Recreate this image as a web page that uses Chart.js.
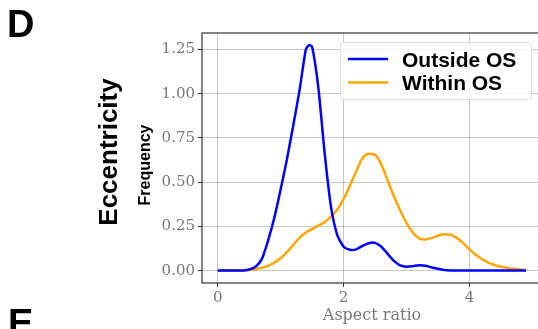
<!DOCTYPE html>
<html>
<head>
<meta charset="utf-8">
<script src="https://cdn.jsdelivr.net/npm/chart.js@4/dist/chart.umd.min.js"></script>
<style>
  html, body { margin: 0; padding: 0; background: #fff; overflow: hidden; }
  #wrap { width: 545px; height: 329px; }
</style>
</head>
<body>
<div id="wrap"><canvas id="myChart" width="545" height="329"></canvas></div>
<script>
// aspect ratio grid (x) and the two density curves
const aspectRatio = [0, 0.1, 0.2, 0.3, 0.4, 0.5, 0.6, 0.7, 0.8, 0.9, 1.0, 1.1, 1.2, 1.3, 1.4, 1.45, 1.5, 1.6, 1.7, 1.8, 1.9,
  2.0, 2.1, 2.2, 2.3, 2.4, 2.5, 2.6, 2.7, 2.8, 2.9, 3.0, 3.1, 3.2, 3.3, 3.4, 3.5, 3.6, 3.7, 3.8, 3.9,
  4.0, 4.1, 4.2, 4.3, 4.4, 4.5, 4.6, 4.7, 4.8, 4.9];
const outsideOS = [0, 0, 0, 0, 0.001, 0.006, 0.022, 0.065, 0.17, 0.3, 0.46, 0.63, 0.82, 1.02, 1.25, 1.275, 1.265, 1.03, 0.66, 0.36, 0.2,
  0.135, 0.118, 0.12, 0.14, 0.155, 0.157, 0.135, 0.095, 0.055, 0.03, 0.022, 0.025, 0.03, 0.027, 0.018, 0.01, 0.004, 0.001, 0, 0,
  0, 0, 0, 0, 0, 0, 0, 0, 0, 0];
const withinOS = [0, 0, 0, 0, 0.001, 0.003, 0.008, 0.016, 0.027, 0.045, 0.07, 0.105, 0.145, 0.185, 0.215, 0.226, 0.235, 0.255, 0.275, 0.305, 0.345,
  0.405, 0.48, 0.56, 0.635, 0.66, 0.655, 0.6, 0.51, 0.42, 0.34, 0.27, 0.215, 0.182, 0.176, 0.185, 0.197, 0.206, 0.203, 0.185, 0.155,
  0.12, 0.09, 0.065, 0.045, 0.032, 0.022, 0.015, 0.01, 0.006, 0.003];
const seriesNames = ['Outside OS', 'Within OS'];
const xTicks = [0, 2, 4];
const yTicks = [0, 0.25, 0.5, 0.75, 1.0, 1.25];

const BLUE = '#0000ff';
const ORANGE = '#ffa500';
const TICK_FONT = { family: 'DejaVu Serif', size: 15 };

// extra texts, frame and legend drawn by hand
const decorPlugin = {
  id: 'decor',
  afterDraw(chart) {
    const ctx = chart.ctx;
    const a = chart.chartArea;
    ctx.save();
    // frame
    ctx.strokeStyle = '#333';
    ctx.lineWidth = 1.2;
    ctx.strokeRect(a.left, a.top, a.right - a.left, a.bottom - a.top);

    // panel letters
    ctx.fillStyle = '#000';
    ctx.font = 'bold 38px "Liberation Sans", Arial, sans-serif';
    ctx.textAlign = 'left';
    ctx.textBaseline = 'alphabetic';
    ctx.fillText('D', 7, 37);
    ctx.fillText('E', 8, 336);

    // rotated labels
    ctx.save();
    ctx.translate(117, 152);
    ctx.rotate(-Math.PI / 2);
    ctx.textAlign = 'center';
    ctx.font = 'bold 26px "Liberation Sans", Arial, sans-serif';
    ctx.fillText('Eccentricity', 0, 0);
    ctx.restore();

    ctx.save();
    ctx.translate(150, 165);
    ctx.rotate(-Math.PI / 2);
    ctx.textAlign = 'center';
    ctx.font = 'bold 16px "Liberation Sans", Arial, sans-serif';
    ctx.fillText('Frequency', 0, 0);
    ctx.restore();

    // x axis title
    ctx.fillStyle = '#777';
    ctx.font = '16px "DejaVu Serif", serif';
    ctx.textAlign = 'center';
    ctx.textBaseline = 'middle';
    ctx.fillText('Aspect ratio', 372, 316);

    // legend
    ctx.fillStyle = 'rgba(255,255,255,0.85)';
    ctx.strokeStyle = '#ddd';
    ctx.lineWidth = 1;
    ctx.beginPath();
    ctx.roundRect(340.5, 42.5, 191, 57, 3);
    ctx.fill();
    ctx.stroke();
    const colors = [BLUE, ORANGE];
    const rows = [59, 82.5];
    ctx.font = 'bold 21px "Liberation Sans", Arial, sans-serif';
    ctx.textAlign = 'left';
    ctx.textBaseline = 'alphabetic';
    seriesNames.forEach((name, i) => {
      ctx.strokeStyle = colors[i];
      ctx.lineWidth = 2.5;
      ctx.beginPath();
      ctx.moveTo(348, rows[i]);
      ctx.lineTo(388, rows[i]);
      ctx.stroke();
      ctx.fillStyle = '#000';
      ctx.fillText(name, 402, rows[i] + 7.5);
    });
    ctx.restore();
  }
};

const toPoints = (ys) => aspectRatio.map((x, i) => ({ x: x, y: ys[i] }));

new Chart(document.getElementById('myChart'), {
  type: 'line',
  data: {
    datasets: [
      { label: seriesNames[0], data: toPoints(outsideOS), borderColor: BLUE, borderWidth: 2.5, pointRadius: 0, tension: 0.2 },
      { label: seriesNames[1], data: toPoints(withinOS), borderColor: ORANGE, borderWidth: 2.5, pointRadius: 0, tension: 0.3, cubicInterpolationMode: 'monotone' }
    ]
  },
  options: {
    responsive: false,
    animation: false,
    devicePixelRatio: 1,
    layout: { padding: { top: 33, right: 0, left: 0, bottom: 0 } },
    plugins: { legend: { display: false }, tooltip: { enabled: false } },
    scales: {
      x: {
        type: 'linear',
        min: -0.25,
        max: 5.2,
        afterBuildTicks: (s) => { s.ticks = xTicks.map(v => ({ value: v })); },
        afterFit: (s) => { s.height = 46; },
        grid: { color: 'rgba(0,0,0,0.22)', tickColor: '#333', tickLength: 4 },
        border: { display: false },
        ticks: { color: '#777', font: TICK_FONT, padding: 2, maxRotation: 0 }
      },
      y: {
        min: -0.07,
        max: 1.343,
        afterBuildTicks: (s) => { s.ticks = yTicks.map(v => ({ value: v })); },
        afterFit: (s) => { s.width = 202; },
        grid: { color: 'rgba(0,0,0,0.22)', tickColor: '#333', tickLength: 4 },
        border: { display: false },
        ticks: { color: '#777', font: TICK_FONT, padding: 3, callback: (v) => v.toFixed(2) }
      }
    }
  },
  plugins: [decorPlugin]
});
</script>
</body>
</html>
